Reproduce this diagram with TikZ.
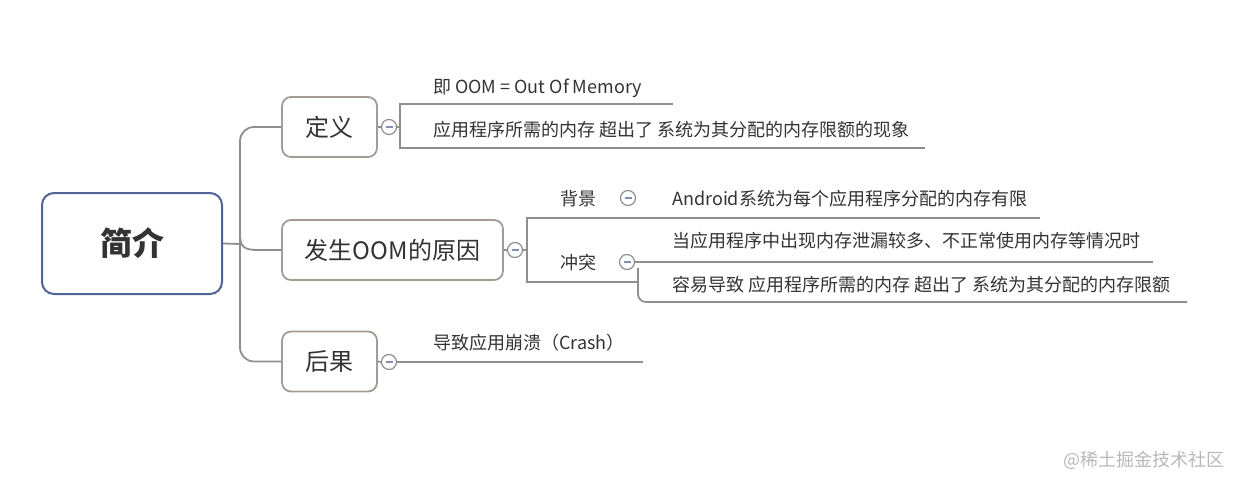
\documentclass[tikz,border=0pt]{standalone}
\usepackage{fontspec}
\setmainfont{Noto Sans CJK SC}
\definecolor{txt}{HTML}{333333}
\definecolor{linegray}{HTML}{8F8F8F}
\definecolor{boxgray}{HTML}{A39C95}
\definecolor{rootblue}{HTML}{4E6495}
\definecolor{minusblue}{HTML}{7F8FB5}
\definecolor{wm}{HTML}{B8B8B8}
\begin{document}
\begin{tikzpicture}[x=1pt,y=-1pt,
  conn/.style={draw=linegray, line width=1.8pt},
  topicbox/.style={draw=boxgray, line width=1.8pt, rounded corners=9pt, fill=white, inner sep=0pt, text=txt, font=\fontsize{24}{28}\selectfont},
  rootbox/.style={draw=rootblue, line width=2pt, rounded corners=12pt, fill=white, inner sep=0pt, minimum width=180pt, minimum height=101pt, text=txt, font=\fontsize{32}{38}\selectfont\bfseries},
  leaf/.style={anchor=west, inner sep=0pt, text=txt, font=\fontsize{18}{22}\selectfont},
  minus/.style={circle, draw=linegray, fill=white, line width=1.2pt, minimum size=15pt, inner sep=0pt,
    path picture={\draw[minusblue, line width=1.3pt] ([xshift=-3.5pt]path picture bounding box.center) -- ([xshift=3.5pt]path picture bounding box.center);}}
]
\useasboundingbox (0,0) rectangle (1240,487);

% root and topics
\node[rootbox] (root) at (132,243.5) {简介};
\node[topicbox, minimum width=95pt, minimum height=60pt] (def) at (329.5,127) {定义};
\node[topicbox, minimum width=221pt, minimum height=60pt] (cause) at (392.5,250) {发生OOM的原因};
\node[topicbox, minimum width=95pt, minimum height=60pt] (result) at (329.5,361.5) {后果};

% trunk
\coordinate (tj) at (240,244);
\draw[conn] (root.east) -- (tj);
\draw[conn, rounded corners=14pt] (def.west) -| (tj) |- (result.west);
\draw[conn] (240,234) .. controls (240,247) and (244,250) .. (258,250) -- (cause.west);

% definition branch
\node[minus] (c1) at (389,127) {};
\coordinate (d1) at (400,127);
\coordinate (d1top) at (673,104);
\coordinate (d1bot) at (925,148);
\draw[conn] (def.east) -- (c1.west);
\draw[conn] (c1.east) -- (d1);
\draw[conn] (d1top) -- (400,104) -- (400,148) -- (d1bot);
\node[leaf] (t1) at (433,88) {即 OOM = Out Of Memory};
\node[leaf] (t2) at (433,130) {应用程序所需的内存 超出了 系统为其分配的内存限额的现象};

% cause branch
\node[minus] (c2) at (515,250) {};
\coordinate (d2) at (527,250);
\coordinate (d2top) at (1040,218);
\coordinate (d2bot) at (638,282);
\draw[conn] (cause.east) -- (c2.west);
\draw[conn] (c2.east) -- (d2);
\draw[conn] (d2top) -- (527,218) -- (527,282) -- (d2bot);
\node[leaf] (bg) at (560,199) {背景};
\node[minus] (c4) at (628,198) {};
\node[leaf] (t3) at (672,199) {Android系统为每个应用程序分配的内存有限};
\node[leaf] (ct) at (560,263) {冲突};
\node[minus] (c5) at (627,262) {};
\coordinate (d5top) at (1153,262);
\coordinate (d5bot) at (1187,302);
\draw[conn] (c5.east) -- (d5top);
\draw[conn, rounded corners=8pt] (638,268) -- (638,302) -- (d5bot);
\node[leaf] (t4) at (672,241) {当应用程序中出现内存泄漏较多、不正常使用内存等情况时};
\node[leaf] (t5) at (672,285) {容易导致 应用程序所需的内存 超出了 系统为其分配的内存限额};

% result branch
\node[minus] (c3) at (389,362) {};
\coordinate (d3) at (643,362);
\draw[conn] (result.east) -- (c3.west);
\draw[conn] (c3.east) -- (d3);
\node[leaf] (t6) at (433,343) {导致应用崩溃（Crash）};

% watermark
\node[anchor=west, inner sep=0pt, text=wm, font=\fontsize{18}{21}\selectfont] (wmk) at (1063,460) {@稀土掘金技术社区};
\end{tikzpicture}
\end{document}
